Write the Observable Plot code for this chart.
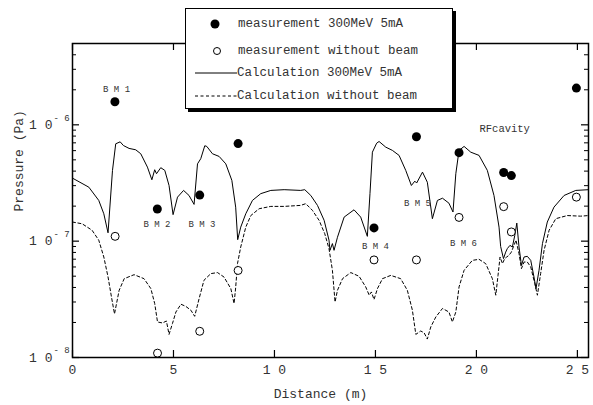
<!DOCTYPE html>
<html>
<head>
<meta charset="utf-8">
<script src="https://cdn.jsdelivr.net/npm/d3@7"></script>
<script src="https://cdn.jsdelivr.net/npm/@observablehq/plot@0.6"></script>
<style>
  html, body { margin: 0; padding: 0; background: #fff; }
  #wrap { position: relative; width: 593px; height: 405px; font-family: "Courier New", "Liberation Mono", monospace; }
  #legend { position: absolute; left: 185px; top: 8px; width: 268px; height: 101px; box-sizing: border-box;
            border: 1px solid #000; box-shadow: 3px 3px 0 #000; background: #fff; }
  #legend svg { position: absolute; left: 0; top: 0; }
</style>
</head>
<body>
<div id="wrap"></div>
<script>
// ---- data (distance in m, pressure in Pa) ----
const calcBeamX = [0,0.81,1.30,1.55,1.76,1.98,2.14,2.36,2.52,2.80,3.13,3.38,3.71,3.93,4.07,4.16,4.37,4.57,4.78,4.98,5.20,5.50,5.77,6.02,6.19,6.35,6.55,6.65,6.93,7.26,7.59,7.89,8.08,8.18,8.33,8.58,8.91,9.32,9.82,10.48,11.3,11.5,11.8,12.13,12.46,12.70,12.75,12.87,12.95,13.12,13.45,13.94,14.27,14.6,14.73,14.85,15.06,15.18,15.51,15.84,16.17,16.5,16.78,16.95,17.04,17.33,17.57,17.82,18.07,18.32,18.64,18.84,18.98,19.14,19.39,19.72,20.13,20.54,20.87,21.12,21.2,21.34,21.45,21.53,21.66,21.78,21.9,22.0,22.11,22.23,22.36,22.52,22.69,22.85,22.95,23.1,23.27,23.51,23.84,24.34,24.92,25.55];
const calcBeamP = [3.48e-7,2.91e-7,2.24e-7,1.72e-7,1.18e-7,4.06e-7,6.87e-7,7.14e-7,6.64e-7,6.27e-7,6.1e-7,5.64e-7,4.33e-7,3.37e-7,4.11e-7,3.8e-7,4.28e-7,4.06e-7,3.01e-7,1.69e-7,2.39e-7,2.73e-7,2.47e-7,2.07e-7,4.62e-7,5.11e-7,6.61e-7,6.52e-7,5.64e-7,5.35e-7,4.62e-7,3.33e-7,1.96e-7,1.03e-7,1.32e-7,1.72e-7,2.24e-7,2.56e-7,2.73e-7,2.77e-7,2.73e-7,2.77e-7,2.47e-7,2.03e-7,1.51e-7,1.02e-7,8.34e-8,9.53e-8,8.34e-8,1.08e-7,1.61e-7,1.86e-7,1.61e-7,1.1e-7,2.56e-7,5.82e-7,6.95e-7,7.19e-7,6.43e-7,6.03e-7,5.46e-7,4.06e-7,3.01e-7,3.28e-7,3.16e-7,3.92e-7,3.21e-7,1.56e-7,2.24e-7,2.34e-7,2.12e-7,1.78e-7,3.8e-7,6.03e-7,6.52e-7,5.82e-7,5.46e-7,4.06e-7,2.47e-7,1.32e-7,9.0e-8,7.08e-8,8.05e-8,8.63e-8,9.2e-8,8.91e-8,1.12e-7,1.43e-7,8.91e-8,6.19e-8,7.31e-8,7.41e-8,6.84e-8,4.92e-8,3.91e-8,5.62e-8,9.53e-8,1.46e-7,1.96e-7,2.47e-7,2.73e-7,2.77e-7];

const calcNoBeamX = [0,0.48,0.97,1.30,1.55,1.76,1.93,2.08,2.31,2.56,3.05,3.54,3.88,4.07,4.21,4.46,4.65,4.78,4.95,5.12,5.37,5.61,5.86,6.05,6.27,6.51,6.85,7.18,7.5,7.84,8.0,8.08,8.17,8.33,8.58,8.83,9.24,9.82,10.48,11.3,11.55,11.88,12.21,12.49,12.70,12.87,13.0,13.12,13.37,13.78,14.19,14.52,14.69,14.8,14.93,15.1,15.35,15.76,16.25,16.58,16.83,17.0,17.24,17.41,17.57,17.74,17.99,18.32,18.64,18.81,18.98,19.14,19.39,19.8,20.13,20.46,20.79,20.96,21.07,21.17,21.29,21.4,21.5,21.61,21.73,21.86,21.96,22.11,22.23,22.36,22.52,22.69,22.89,23.02,23.18,23.35,23.6,23.93,24.5,25.16,25.55];
const calcNoBeamP = [1.46e-7,1.41e-7,1.24e-7,1.02e-7,7.31e-8,4.92e-8,3.31e-8,2.37e-8,3.78e-8,4.76e-8,5.15e-8,4.76e-8,3.91e-8,2.91e-8,2.02e-8,1.98e-8,2.06e-8,1.58e-8,1.96e-8,2.46e-8,2.87e-8,2.75e-8,2.55e-8,2.26e-8,3.21e-8,4.61e-8,5.26e-8,5.37e-8,4.92e-8,3.91e-8,2.91e-8,4.0e-8,6.41e-8,8.91e-8,1.32e-7,1.66e-7,1.9e-7,1.99e-7,1.99e-7,2.03e-7,2.1e-7,1.84e-7,1.51e-7,1.16e-7,8.63e-8,5.62e-8,3.0e-8,3.78e-8,4.76e-8,5.37e-8,4.99e-8,4.04e-8,3.43e-8,3.66e-8,3.15e-8,3.91e-8,4.76e-8,5.08e-8,4.76e-8,3.78e-8,2.55e-8,1.58e-8,1.69e-8,1.63e-8,1.44e-8,1.83e-8,2.23e-8,2.64e-8,2.46e-8,2.02e-8,2.46e-8,4.04e-8,5.62e-8,6.84e-8,6.98e-8,6.41e-8,4.76e-8,3.43e-8,5.08e-8,7.31e-8,6.41e-8,7.08e-8,7.31e-8,7.55e-8,8.05e-8,9.2e-8,1.02e-7,7.8e-8,5.81e-8,6.62e-8,6.62e-8,6.0e-8,4.32e-8,3.43e-8,5.26e-8,8.34e-8,1.24e-7,1.56e-7,1.66e-7,1.64e-7,1.66e-7];

const measBeamX = [2.1, 4.2, 6.3, 8.2, 14.93, 17.03, 19.14, 21.35, 21.73, 24.95];
const measBeamP = [1.58e-6, 1.89e-7, 2.49e-7, 6.9e-7, 1.3e-7, 7.9e-7, 5.76e-7, 3.89e-7, 3.66e-7, 2.07e-6];
const measNoBeamX = [2.11, 4.21, 6.3, 8.2, 14.93, 17.03, 19.14, 21.35, 21.73, 24.95];
const measNoBeamP = [1.1e-7, 1.09e-8, 1.68e-8, 5.6e-8, 6.9e-8, 6.9e-8, 1.6e-7, 1.98e-7, 1.2e-7, 2.39e-7];

const labelText = ["B M 1", "B M 2", "B M 3", "B M 4", "B M 5", "B M 6", "RFcavity"];
const labelX = [2.18, 4.18, 6.41, 15.0, 17.08, 19.36, 21.4];
const labelP = [2.03e-6, 1.4e-7, 1.4e-7, 9.1e-8, 2.12e-7, 9.6e-8, 9.2e-7];

const xTicks = [0, 5, 10, 15, 20, 25];
const xTickLabels = ["0", "5", "1 0", "1 5", "2 0", "2 5"];
const yMajor = [1e-8, 1e-7, 1e-6];
const yMajorBase = ["1 0", "1 0", "1 0"];
const yMajorExp = ["- 8", "- 7", "- 6"];
const yMinor = [2e-8,3e-8,4e-8,5e-8,6e-8,7e-8,8e-8,9e-8,2e-7,3e-7,4e-7,5e-7,6e-7,7e-7,8e-7,9e-7,2e-6,3e-6,4e-6];

const legendLabels = ["measurement 300MeV 5mA", "measurement without beam", "Calculation 300MeV 5mA", "Calculation without beam"];

// ---- tables ----
const calcBeam = calcBeamX.map((x, i) => ({x, p: calcBeamP[i]}));
const calcNoBeam = calcNoBeamX.map((x, i) => ({x, p: calcNoBeamP[i]}));
const measBeam = measBeamX.map((x, i) => ({x, p: measBeamP[i]}));
const measNoBeam = measNoBeamX.map((x, i) => ({x, p: measNoBeamP[i]}));
const labels = labelText.map((t, i) => ({t, x: labelX[i], p: labelP[i]}));

const W = 593, H = 405, mL = 72, mR = 5, mT = 43, mB = 48;
const fW = W - mL - mR, fH = H - mT - mB;
const font = '"Courier New", "Liberation Mono", monospace';
const txt = "#333";

const chart = Plot.plot({
  width: W, height: H,
  marginLeft: mL, marginRight: mR, marginTop: mT, marginBottom: mB,
  style: {fontFamily: font, background: "#fff", color: "#000"},
  x: {domain: [0, 25.55], axis: null},
  y: {type: "log", domain: [1e-8, 5e-6], axis: null},
  marks: [
    Plot.line(calcNoBeam, {x: "x", y: "p", stroke: "#000", strokeWidth: 1, strokeDasharray: "3,2.5"}),
    Plot.line(calcBeam, {x: "x", y: "p", stroke: "#000", strokeWidth: 1}),
    Plot.dot(measBeam, {x: "x", y: "p", r: 4.5, fill: "#000", stroke: "none"}),
    Plot.dot(measNoBeam, {x: "x", y: "p", r: 4, fill: "#fff", stroke: "#000", strokeWidth: 1}),
    Plot.text(labels, {x: "x", y: "p", text: "t", fontSize: d => d.t === "RFcavity" ? 10.5 : 9, fill: txt}),
    // ticks (inward)
    Plot.tickX(xTicks, {x: d => d, insetTop: fH - 7, stroke: "#000", strokeWidth: 1.2}),
    Plot.tickX(xTicks, {x: d => d, insetBottom: fH - 7, stroke: "#000", strokeWidth: 1.2}),
    Plot.tickY(yMajor, {y: d => d, insetRight: fW - 7, stroke: "#000", strokeWidth: 1.2}),
    Plot.tickY(yMajor, {y: d => d, insetLeft: fW - 7, stroke: "#000", strokeWidth: 1.2}),
    Plot.tickY(yMinor, {y: d => d, insetRight: fW - 4, stroke: "#000", strokeWidth: 1}),
    Plot.tickY(yMinor, {y: d => d, insetLeft: fW - 4, stroke: "#000", strokeWidth: 1}),
    Plot.frame({stroke: "#000", strokeWidth: 1.5}),
    // tick labels
    Plot.text(xTicks, {x: d => d, frameAnchor: "bottom", dy: 16, text: (d, i) => xTickLabels[i], fontSize: 13, fill: txt}),
    Plot.text(yMajor, {y: d => d, frameAnchor: "left", dx: -20, textAnchor: "end", text: (d, i) => yMajorBase[i], fontSize: 13, fill: txt}),
    Plot.text(yMajor, {y: d => d, frameAnchor: "left", dx: -19, dy: -7, textAnchor: "start", text: (d, i) => yMajorExp[i], fontSize: 9, fill: txt}),
    // axis titles
    Plot.text(["Distance (m)"], {frameAnchor: "bottom", dx: -10, dy: 40, text: d => d, fontSize: 13, fill: txt}),
    Plot.text(["Pressure (Pa)"], {frameAnchor: "left", dx: -54, dy: 11, rotate: -90, text: d => d, fontSize: 13, fill: txt})
  ]
});

const wrap = document.getElementById("wrap");
wrap.appendChild(chart);

// legend overlay
const lg = document.createElement("div");
lg.id = "legend";
const ns = "http://www.w3.org/2000/svg";
const svg = document.createElementNS(ns, "svg");
svg.setAttribute("width", 268); svg.setAttribute("height", 101);
const ox = 186, oy = 9; // inner origin in page coords
function el(tag, attrs) { const e = document.createElementNS(ns, tag); for (const k in attrs) e.setAttribute(k, attrs[k]); svg.appendChild(e); return e; }
const rowsY = [24, 51, 73, 96];
el("circle", {cx: 215 - ox, cy: rowsY[0] - oy, r: 4.5, fill: "#000"});
el("circle", {cx: 217 - ox, cy: rowsY[1] - oy, r: 3.5, fill: "#fff", stroke: "#000", "stroke-width": 1});
el("line", {x1: 195 - ox, x2: 237 - ox, y1: rowsY[2] - oy, y2: rowsY[2] - oy, stroke: "#000", "stroke-width": 1});
el("line", {x1: 195 - ox, x2: 237 - ox, y1: rowsY[3] - oy, y2: rowsY[3] - oy, stroke: "#000", "stroke-width": 1, "stroke-dasharray": "3,2.5"});
const textX = [238, 238, 237, 237];
legendLabels.forEach((t, i) => {
  const e = el("text", {x: textX[i] - ox, y: rowsY[i] - oy, "dominant-baseline": "middle", "font-size": 12.5, fill: txt, "font-family": font});
  e.textContent = t;
});
lg.appendChild(svg);
wrap.appendChild(lg);
</script>
</body>
</html>
